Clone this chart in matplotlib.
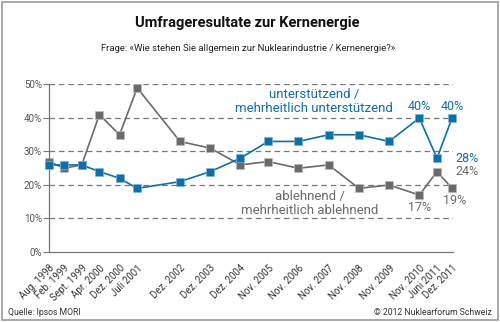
import matplotlib
matplotlib.use("Agg")
import matplotlib.pyplot as plt
from matplotlib.patches import Rectangle

plt.rcParams['font.family'] = ['Roboto', 'DejaVu Sans']

# Umfragezeitpunkte (Monat, Jahr)
labels = ['Aug. 1998', 'Feb. 1999', 'Sept. 1999', 'Apr. 2000', 'Dez. 2000', 'Juli 2001',
          'Dez. 2002', 'Dez. 2003', 'Dez. 2004', 'Nov. 2005', 'Nov. 2006', 'Nov. 2007',
          'Nov. 2008', 'Nov. 2009', 'Nov. 2010', 'Juni 2011', 'Dez. 2011']
months = [8, 2, 9, 4, 12, 7, 12, 12, 12, 11, 11, 11, 11, 11, 11, 6, 12]
years = [1998, 1999, 1999, 2000, 2000, 2001, 2002, 2003, 2004, 2005, 2006, 2007,
         2008, 2009, 2010, 2011, 2011]
dafuer = [26, 26, 26, 24, 22, 19, 21, 24, 28, 33, 33, 35, 35, 33, 40, 28, 40]
dagegen = [27, 25, 26, 41, 35, 49, 33, 31, 26, 27, 25, 26, 19, 20, 17, 24, 19]

blue = '#0a70ad'
grey = '#6a6a6a'
tick_grey = '#555555'

x = [y + (m - 1) / 12 for y, m in zip(years, months)]

fig = plt.figure(figsize=(5, 3.22), dpi=100)
fig.patches.append(Rectangle((0.003, 0.005), 0.993, 0.99, transform=fig.transFigure,
                             fill=False, edgecolor='#999999', lw=1.2))
ax = fig.add_axes([0.098, 0.2174, 0.808, 0.5202])

for yv in [10, 20, 30, 40, 50]:
    ax.axhline(yv, color='#777777', lw=0.9, dashes=(4.5, 3), zorder=1)

ax.plot(x, dafuer, color=blue, lw=1.2, marker='s', ms=5.6, mec='#7fb3d6', mew=0.5,
        zorder=3, clip_on=False)
ax.plot(x, dagegen, color=grey, lw=1.2, marker='s', ms=5.6, mec='#bbbbbb', mew=0.5,
        zorder=2, clip_on=False)

ax.set_xlim(x[0], x[-1] + 0.03)
ax.set_ylim(0, 50)
ax.set_yticks([0, 10, 20, 30, 40, 50])
ax.set_yticklabels(['%d%%' % v for v in [0, 10, 20, 30, 40, 50]], fontsize=7, color=tick_grey)
ax.set_xticks(x)
ax.set_xticklabels(labels, rotation=45, ha='right', rotation_mode='anchor',
                   fontsize=7, color='#333333')
ax.tick_params(axis='x', length=0, pad=8)
ax.tick_params(axis='y', length=4, width=0.8, color='#777777', pad=1)
for s in ['top', 'right']:
    ax.spines[s].set_visible(False)
for s in ['left', 'bottom']:
    ax.spines[s].set_color('#777777')
    ax.spines[s].set_linewidth(0.9)

# Serienbeschriftungen
ax.text(2007.35, 45.0, 'unterstützend /\nmehrheitlich unterstützend', color=blue,
        fontsize=9.5, ha='center', va='center', linespacing=1.1)
ax.text(2007.2, 14.6, 'ablehnend /\nmehrheitlich ablehnend', color=grey,
        fontsize=9.5, ha='center', va='center', linespacing=1.1)

# Werte am Ende
ax.text(x[14], 41.4, '40%', color=blue, fontsize=9, ha='center', va='bottom')
ax.text(x[16], 41.4, '40%', color=blue, fontsize=9, ha='center', va='bottom')
ax.text(x[16] + 0.1, 28, '28%', color=blue, fontsize=9, ha='left', va='center')
ax.text(x[16] + 0.1, 24, '24%', color=grey, fontsize=9, ha='left', va='center')
ax.text(x[14], 15.3, '17%', color=grey, fontsize=9, ha='center', va='top')
ax.text(x[16] + 0.1, 17.3, '19%', color=grey, fontsize=9, ha='center', va='top')

fig.text(0.494, 0.928, 'Umfrageresultate zur Kernenergie', fontsize=10.5,
         fontweight='bold', ha='center', va='center', color='#111111')
fig.text(0.497, 0.848, 'Frage: «Wie stehen Sie allgemein zur Nuklearindustrie / Kernenergie?»',
         fontsize=6.8, ha='center', va='center', color='#222222')
fig.text(0.016, 0.028, 'Quelle: Ipsos MORI', fontsize=6.2, ha='left', va='center',
         color='#333333')
fig.text(0.984, 0.028, '© 2012 Nuklearforum Schweiz', fontsize=6.2, ha='right',
         va='center', color='#333333')

fig.savefig('out.png', dpi=100)
